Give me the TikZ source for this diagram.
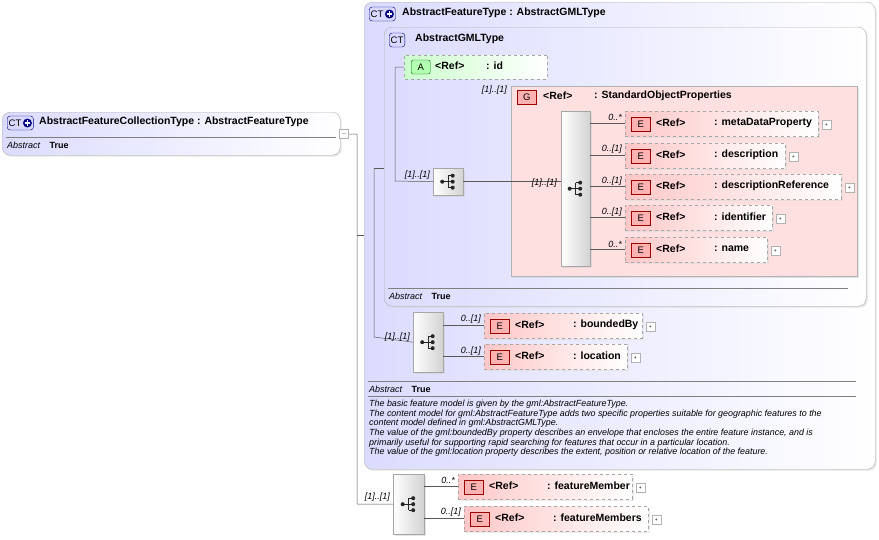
\documentclass[tikz,border=0pt]{standalone}
\usepackage{fontspec}
\setmainfont{Liberation Sans}
\usetikzlibrary{shadows,shapes.geometric,shapes.misc,calc}
\begin{document}
\begin{tikzpicture}[x=1pt,y=-1pt,font=\fontsize{10.5}{12}\selectfont,
  ln/.style={draw=gray!70!black,line width=0.5pt},
  ctbox/.style={draw=gray!60,rounded corners=8pt,left color=blue!14,right color=white,drop shadow={shadow xshift=1.5pt,shadow yshift=-1.5pt,fill=gray!40}},
  elem/.style={draw=gray!70,dashed,left color=red!22,right color=white,inner sep=0pt,anchor=north west,drop shadow={shadow xshift=1.5pt,shadow yshift=-1.5pt,fill=gray!30}},
  seq/.style={draw=gray!70,left color=white,right color=gray!35,inner sep=0pt,anchor=north west,drop shadow={shadow xshift=1.5pt,shadow yshift=-1.5pt,fill=gray!40}},
  icon/.style={draw=red!60!black,fill=red!30,font=\fontsize{9.5}{10}\selectfont,inner sep=1.5pt,minimum width=19pt,minimum height=14pt},
  cticon/.style={draw=blue!50!black,fill=blue!15,rounded corners=3pt,inner sep=1.5pt,font=\fontsize{9.5}{10}\selectfont,anchor=west,minimum height=14pt},
  plus/.style={draw=gray!60,fill=white,minimum size=9pt,inner sep=0pt},
  mult/.style={font=\fontsize{9}{10}\itshape,inner sep=0pt,anchor=east},
  small/.style={anchor=west,inner sep=0pt,font=\fontsize{9}{10}\selectfont},
  b/.style={font=\fontsize{10.5}{12}\bfseries\selectfont}]
\useasboundingbox (0,0) rectangle (879,539);
\newcommand\seqicon[1]{%
  \fill[gray!30!black] ($(#1)+(-6,0)$) circle(2);
  \draw[gray!30!black,line width=0.8pt] ($(#1)+(-6,0)$)--($(#1)+(0,0)$) ($(#1)+(0,-6)$)--($(#1)+(0,6)$) ($(#1)+(0,-6)$)--($(#1)+(4,-6)$) ($(#1)+(0,0)$)--($(#1)+(4,0)$) ($(#1)+(0,6)$)--($(#1)+(4,6)$);
  \fill[gray!30!black] ($(#1)+(4.5,-6)$) circle(2) ($(#1)+(4.5,0)$) circle(2) ($(#1)+(4.5,6)$) circle(2);}
\newcommand\ctplus{CT\,\tikz[baseline=-3pt,x=1pt,y=1pt]{\fill[blue!50!black] (0,0) circle(4.5);\draw[white,line width=1.3pt] (-2.8,0)--(2.8,0) (0,-2.8)--(0,2.8);}}
\newcommand\elbox[5]{% id, x, y, width, name
  \node[elem,minimum width=#4pt,minimum height=25pt] (#1) at (#2,#3) {};
  \node[icon,anchor=west] (#1i) at ($(#1.west)+(6,0.5)$) {E};
  \node[b,anchor=west,inner sep=0pt] (#1r) at ($(#1.west)+(31,-1)$) {<Ref>};
  \node[b,anchor=west,inner sep=0pt] (#1n) at ($(#1.west)+(89,-1)$) {: #5};
  \node[plus] (#1p) at ($(#1.east)+(8,1)$) {\tiny +};}
% left box
\node[ctbox,minimum width=338pt,minimum height=43pt,anchor=north west] (root) at (2,112) {};
\node[cticon] (rooti) at (7,123) {\ctplus};
\node[b,anchor=west,inner sep=0pt] at (39,122) {AbstractFeatureCollectionType : AbstractFeatureType};
\draw[gray] (6,137)--(336,137);
\node[small] at (7,145) {\textit{Abstract}\quad \textbf{True}};
\node[plus] (rootp) at (344,134) {\tiny $-$};
% outer box
\node[ctbox,minimum width=511pt,minimum height=467pt,anchor=north west] (outer) at (364,2) {};
\node[cticon] at (369,14) {\ctplus};
\node[b,anchor=west,inner sep=0pt] at (402,13) {AbstractFeatureType : AbstractGMLType};
\draw[gray] (368,381)--(856,381) (368,396)--(856,396);
\node[small] at (369,389) {\textit{Abstract}\quad \textbf{True}};
\node[anchor=north west,inner sep=0pt,align=left,font=\fontsize{8.9}{9.6}\itshape] at (369,400) {The basic feature model is given by the gml:AbstractFeatureType.\\
The content model for gml:AbstractFeatureType adds two specific properties suitable for geographic features to the\\
content model defined in gml:AbstractGMLType.\\
The value of the gml:boundedBy property describes an envelope that encloses the entire feature instance, and is\\
primarily useful for supporting rapid searching for features that occur in a particular location.\\
The value of the gml:location property describes the extent, position or relative location of the feature.};
% GML box
\node[ctbox,minimum width=482pt,minimum height=279pt,anchor=north west] (gml) at (384,27) {};
\node[cticon] at (389,40) {CT};
\node[b,anchor=west,inner sep=0pt] at (415,39) {AbstractGMLType};
\draw[gray] (388,288)--(848,288);
\node[small] at (389,296) {\textit{Abstract}\quad \textbf{True}};
% id attribute
\node[draw=gray!70,dashed,left color=green!20,right color=white,chamfered rectangle,chamfered rectangle corners={north west,south west},chamfered rectangle xsep=8pt,minimum width=143pt,minimum height=24pt,anchor=north west,inner sep=0pt] (id) at (404,55) {};
\node[draw=green!40!black,fill=green!30,rounded corners=2pt,font=\fontsize{9.5}{10}\selectfont,inner sep=1.5pt,minimum width=19pt,minimum height=14pt,anchor=west] at (411,67) {A};
\node[b,anchor=west,inner sep=0pt] at (435,66) {<Ref>};
\node[b,anchor=west,inner sep=0pt] at (486,66) {: id};
% G box
\node[draw=gray!60,fill=red!12,anchor=north west,minimum width=346pt,minimum height=190pt,drop shadow={shadow xshift=1.5pt,shadow yshift=-1.5pt,fill=gray!40}] (grp) at (511,86) {};
\node[icon,anchor=west] at (517,97) {G};
\node[b,anchor=west,inner sep=0pt] at (543,96) {<Ref>};
\node[b,anchor=west,inner sep=0pt] at (594,96) {: StandardObjectProperties};
\node[mult] at (507,90) {[1]..[1]};
% sequences
\node[seq,minimum width=29pt,minimum height=155pt] (s3) at (561,111) {};
\seqicon{s3.center}
\node[seq,minimum width=30pt,minimum height=27pt] (s2) at (433,168) {};
\seqicon{s2.center}
\node[seq,minimum width=30pt,minimum height=60pt] (s1) at (413,312) {};
\seqicon{s1.center}
\node[seq,minimum width=31pt,minimum height=60pt] (s0) at (393,474) {};
\seqicon{s0.center}
% elements
\elbox{md}{625}{111}{193}{metaDataProperty}
\elbox{de}{625}{143}{160}{description}
\elbox{dr}{625}{174}{216}{descriptionReference}
\elbox{ide}{625}{205}{147}{identifier}
\elbox{nm}{625}{237}{142}{name}
\elbox{bb}{484}{313}{158}{boundedBy}
\elbox{lo}{484}{344}{143}{location}
\elbox{fm}{458}{474}{174}{featureMember}
\elbox{fms}{464}{506}{184}{featureMembers}
% connectors
\coordinate (j0) at (357,134);
\draw[ln] (rootp.east)--(j0)--(357,504)--(s0.west);
\draw[ln] (357,235)--(outer.west|-0,235);
\draw[ln] (374,168)--(374,337)--(s1.west);
\draw[ln] (374,168)--(gml.west|-0,168);
\draw[ln] (395,67)--(id.west) (395,67)--(395,181)--(s2.west);
\draw[ln] (s2.east)--(s3.west|-s2.east);
\foreach \n in {md,de,dr,ide,nm}{\draw[ln] (s3.east|-\n.west)--(\n.west);}
\foreach \n in {bb,lo}{\draw[ln] (s1.east|-\n.west)--(\n.west);}
\foreach \n in {fm,fms}{\draw[ln] (s0.east|-\n.west)--(\n.west);}
% multiplicities
\node[mult] at (430,175) {[1]..[1]};
\node[mult] at (557,183) {[1]..[1]};
\node[mult] at (410,337) {[1]..[1]};
\node[mult] at (390,497) {[1]..[1]};
\node[mult] at (622,117) {0..*};
\node[mult] at (622,149) {0..[1]};
\node[mult] at (622,181) {0..[1]};
\node[mult] at (622,212) {0..[1]};
\node[mult] at (622,244) {0..*};
\node[mult] at (481,319) {0..[1]};
\node[mult] at (481,351) {0..[1]};
\node[mult] at (455,480) {0..*};
\node[mult] at (461,512) {0..[1]};
\end{tikzpicture}
\end{document}
